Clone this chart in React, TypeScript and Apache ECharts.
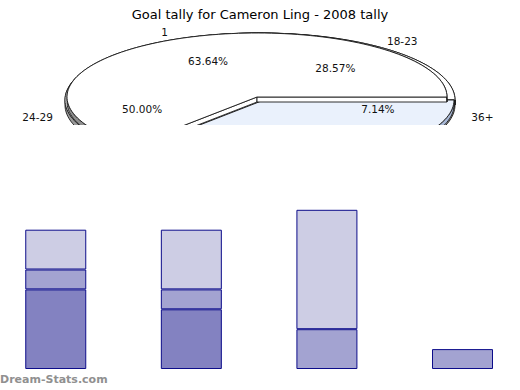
import React, { useEffect, useRef } from "react";
import * as echarts from "echarts";

const TITLE = "Goal tally for Cameron Ling - 2008 tally";
const WATERMARK = "Dream-Stats.com";

// pie A (front)
const pieANames = ["2", "1"];
const pieAValues = [4, 7];
// pie B (behind)
const pieBNames = ["36+", "30-35", "24-29", "18-23"];
const pieBValues = [1, 2, 7, 4];

// stacked bars
const barCategories = ["A", "B", "C", "D"];
const darkValues = [4, 3, 0, 0];
const midValues = [1, 1, 2, 1];
const lightValues = [2, 3, 6, 0];

const FONT = "DejaVu Sans";
const CLIP_Y = 125;

type Layout = {
  cx: number; cy: number; rx: number; ry: number; depth: number;
  pulls: number[][]; fills: string[]; sides: string[];
};

const layoutB: Layout = {
  cx: 260, cy: 100, rx: 195, ry: 67, depth: 5,
  pulls: [[0, 0], [0, 0], [0, 0], [0, 0]],
  fills: ["#eef2fa", "#eef2fa", "#ffffff", "#ffffff"],
  sides: ["#9a9a9a", "#9a9a9a", "#9a9a9a", "#9a9a9a"],
};
const layoutA: Layout = {
  cx: 257, cy: 97, rx: 190, ry: 64, depth: 5,
  pulls: [[7, 3], [0, 0]],
  fills: ["#eaf1fc", "#ffffff"],
  sides: ["#a8b8d6", "#8e8e8e"],
};

type Slice = {
  name: string; value: number; pct: string; a0: number; a1: number;
  cx: number; cy: number; rx: number; ry: number; depth: number;
  fill: string; side: string;
};

function buildSlices(names: string[], values: number[], L: Layout): Slice[] {
  const total = values.reduce((a, b) => a + b, 0);
  let acc = 0;
  return values.map((v, i) => {
    const a0 = (acc / total) * 360;
    acc += v;
    const a1 = (acc / total) * 360;
    return {
      name: names[i], value: v, pct: ((v / total) * 100).toFixed(2) + "%",
      a0, a1, cx: L.cx + L.pulls[i][0], cy: L.cy + L.pulls[i][1],
      rx: L.rx, ry: L.ry, depth: L.depth, fill: L.fills[i], side: L.sides[i],
    };
  });
}

const slices: Slice[] = [
  ...buildSlices(pieBNames, pieBValues, layoutB),
  ...buildSlices(pieANames, pieAValues, layoutA),
];

function pt(s: Slice, deg: number, fx = 1, fy = fx, dy = 0): number[] {
  const t = (deg * Math.PI) / 180;
  return [s.cx + s.rx * fx * Math.cos(t), s.cy + s.ry * fy * Math.sin(t) + dy];
}
function arc(s: Slice, dy = 0): number[][] {
  const n = Math.max(8, Math.ceil((s.a1 - s.a0) / 2));
  const out: number[][] = [];
  for (let k = 0; k <= n; k++) out.push(pt(s, s.a0 + ((s.a1 - s.a0) * k) / n, 1, 1, dy));
  return out;
}

export default function App() {
  const ref = useRef<HTMLDivElement>(null);
  useEffect(() => {
    document.body.style.margin = "0";
    const chart = echarts.init(ref.current!, null, { renderer: "svg" });
    const stroke = { stroke: "#1a1a1a", lineWidth: 0.9 };
    const option: any = {
      animation: false,
      backgroundColor: "#ffffff",
      title: {
        text: TITLE, left: "center", top: 3,
        textStyle: { fontFamily: FONT, fontSize: 13, fontWeight: "normal", color: "#000" },
      },
      grid: { left: 55.75, right: 57.5, top: 170, bottom: 21 },
      xAxis: { type: "category", data: barCategories, show: false, boundaryGap: false },
      yAxis: { type: "value", min: 0, max: 10, show: false },
      graphic: [
        { type: "rect", z: 100, shape: { x: 0, y: CLIP_Y, width: 520, height: 80 }, style: { fill: "#ffffff" } },
        {
          type: "text", z: 101, left: 0, top: 374,
          style: { text: WATERMARK, fill: "#909090", font: `bold 11px ${FONT}` },
        },
      ],
      series: [
        ...[
          { name: "s1", vals: darkValues, color: "#8382c1" },
          { name: "s2", vals: midValues, color: "#a3a3d1" },
          { name: "s3", vals: lightValues, color: "#cdcde4" },
        ].map((s) => ({
          type: "bar", name: s.name, stack: "total", barWidth: 61, clip: false,
          data: s.vals.map((v) => (v === 0 ? null : v)),
          itemStyle: { color: s.color, borderColor: "#0c0c8a", borderWidth: 1 },
        })),
        {
          type: "custom", coordinateSystem: "none", z: 2,
          data: slices.map((s) => s.value),
          renderItem: (params: any) => {
            const s = slices[params.dataIndex];
            const top = arc(s);
            const bottom = arc(s, s.depth).reverse();
            const c = [s.cx, s.cy];
            const e0 = pt(s, s.a0), e1 = pt(s, s.a1);
            const wall = (e: number[]) => [c, e, [e[0], e[1] + s.depth], [c[0], c[1] + s.depth]];
            return {
              type: "group",
              children: [
                { type: "polygon", shape: { points: wall(e0) }, style: { fill: s.fill, ...stroke } },
                { type: "polygon", shape: { points: wall(e1) }, style: { fill: s.fill, ...stroke } },
                { type: "polygon", shape: { points: [...top, ...bottom] }, style: { fill: s.side, ...stroke } },
                { type: "polygon", shape: { points: [c, ...top] }, style: { fill: s.fill, ...stroke } },
              ],
            };
          },
        },
        {
          type: "custom", coordinateSystem: "none", z: 3,
          data: slices.map((s) => s.value),
          renderItem: (params: any) => {
            const s = slices[params.dataIndex];
            const mid = (s.a0 + s.a1) / 2;
            const p = pt(s, mid, 0.62);
            const q = pt(s, mid, 1.17, 1.12);
            const children: any[] = [];
            const mk = (xy: number[], text: string) => ({
              type: "text", x: xy[0], y: xy[1],
              style: { text, fill: "#111", font: `10.5px ${FONT}`, textAlign: "center", textVerticalAlign: "middle" },
            });
            if (p[1] < CLIP_Y - 6) children.push(mk(p, s.pct));
            if (q[1] < CLIP_Y - 6) children.push(mk(q, s.name));
            return { type: "group", children };
          },
        },
      ],
    };
    chart.setOption(option);
    return () => chart.dispose();
  }, []);
  return <div ref={ref} style={{ width: 520, height: 390 }} />;
}
